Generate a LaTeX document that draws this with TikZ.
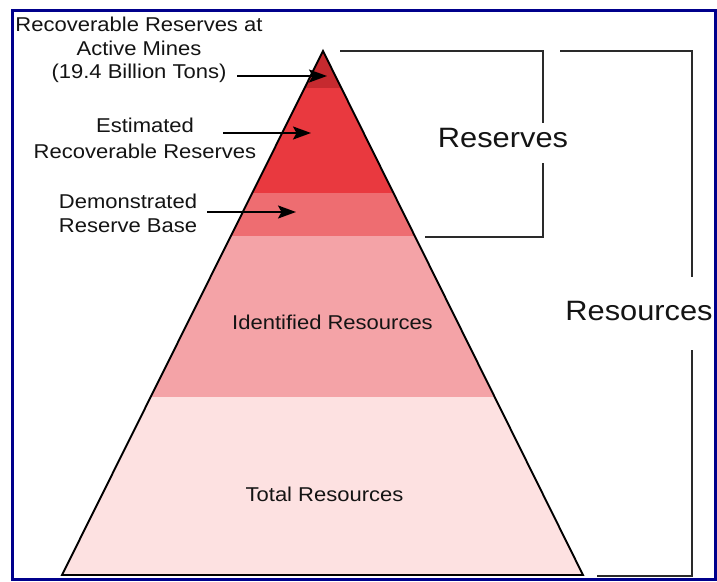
\documentclass[tikz,border=0pt]{standalone}
\usepackage{fontspec}
\setmainfont[FakeStretch=1.1]{Liberation Sans}
\usetikzlibrary{arrows.meta}
\definecolor{bandA}{HTML}{C62A2F}
\definecolor{bandB}{HTML}{E9393F}
\definecolor{bandC}{HTML}{EE6D71}
\definecolor{bandD}{HTML}{F4A3A7}
\definecolor{bandE}{HTML}{FDE1E1}
\definecolor{txt}{HTML}{141414}
\definecolor{brk}{HTML}{2A2A2A}
\definecolor{frame}{HTML}{00008C}
\begin{document}
\begin{tikzpicture}[x=1pt,y=-1pt,
  lbl/.style={inner sep=0pt, align=center, text=txt},
  big/.style={inner sep=0pt, text=txt, font=\fontsize{28}{32}\selectfont},
  mid/.style={inner sep=0pt, text=txt, font=\fontsize{20}{24}\selectfont},
  brk/.style={draw=brk, line width=2pt},
  arr/.style={-{Stealth[length=18pt,width=13pt,inset=3.5pt]}, line width=2pt, draw=black}]
\useasboundingbox (0,0) rectangle (717,581);
\fill[white] (0,0) rectangle (717,581);
% pyramid corners
\coordinate (apex) at (323,51);
\coordinate (bl) at (62,575);
\coordinate (br) at (583,575);
\begin{scope}
\clip (apex) -- (bl) -- (br) -- cycle;
\fill[bandA] (0,40) rectangle (717,88);
\fill[bandB] (0,88) rectangle (717,193);
\fill[bandC] (0,193) rectangle (717,236);
\fill[bandD] (0,236) rectangle (717,397);
\fill[bandE] (0,397) rectangle (717,580);
\end{scope}
\draw[line width=1.9pt, line join=miter] (apex) -- (bl) -- (br) -- cycle;
% texts inside pyramid
\node[mid] (ident) at (332.5,322.5) {Identified Resources};
\node[mid] (total) at (324.5,494) {Total Resources};
% left labels
\node[lbl, anchor=north, font=\fontsize{20}{23.5}\selectfont] (lab1) at (139,17)
  {Recoverable Reserves at\\Active Mines\\(19.4 Billion Tons)};
\node[lbl, anchor=north, font=\fontsize{20}{25.5}\selectfont] (lab2) at (145,118)
  {Estimated\\Recoverable Reserves};
\node[lbl, anchor=north, font=\fontsize{20}{24.4}\selectfont] (lab3) at (128,193.5)
  {Demonstrated\\Reserve Base};
% arrows
\coordinate (s1) at (237,76);  \coordinate (t1) at (327,76);
\coordinate (s2) at (223,133); \coordinate (t2) at (311,133);
\coordinate (s3) at (207,212); \coordinate (t3) at (296,212);
\draw[arr] (s1) -- (t1);
\draw[arr] (s2) -- (t2);
\draw[arr] (s3) -- (t3);
% right texts
\node[big] (reserves) at (503,138.3) {Reserves};
\node[big] (resources) at (639,311) {Resources};
% reserves bracket
\coordinate (r1) at (340,51);  \coordinate (r2) at (543,51);
\coordinate (r3) at (543,123); \coordinate (r4) at (543,163);
\coordinate (r5) at (543,237); \coordinate (r6) at (425,237);
\draw[brk] (r1) -- (r2) -- (r3);
\draw[brk] (r4) -- (r5) -- (r6);
% resources bracket
\coordinate (q1) at (560,51);  \coordinate (q2) at (692,51);
\coordinate (q3) at (692,277); \coordinate (q4) at (692,350);
\coordinate (q5) at (692,576); \coordinate (q6) at (597,576);
\draw[brk] (q1) -- (q2) -- (q3);
\draw[brk] (q4) -- (q5) -- (q6);
% frame
\draw[frame, line width=2.8pt] (12.5,10.5) rectangle (715.6,579.6);
\end{tikzpicture}
\end{document}
